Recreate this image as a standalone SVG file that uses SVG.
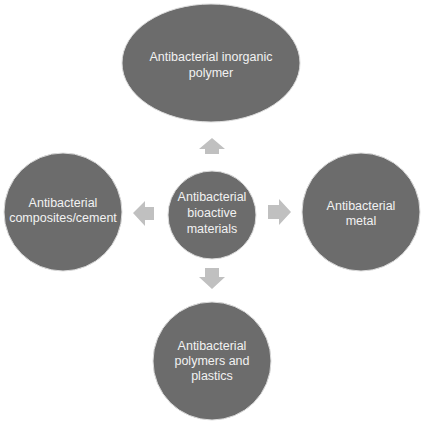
<svg xmlns="http://www.w3.org/2000/svg" width="422" height="421" viewBox="0 0 422 421">
<style>
.node{fill:#6c6c6c;stroke:#dcdcdc;stroke-width:1}
.t{font-family:"Liberation Sans",Arial,sans-serif;font-size:12.5px;fill:#f2f2f2;text-anchor:middle}
.arr{fill:#c0c0c0}
</style>
<rect width="422" height="421" fill="#ffffff"/>
<g id="connectors">
<polygon class="arr" points="212,138 225,149 219,149 219,154 205,154 205,149 199,149"/>
<polygon class="arr" points="212,289 225,277 219,277 219,268 205,268 205,277 199,277"/>
<polygon class="arr" points="133,213 145,201 145,207 154,207 154,220 145,220 145,226"/>
<polygon class="arr" points="291,212 279,199 279,205 268,205 268,219 279,219 279,225"/>
</g>
<g id="top">
<ellipse class="node" cx="211" cy="63" rx="89" ry="59"/>
<text class="t" x="211" y="61">Antibacterial inorganic</text>
<text class="t" x="211" y="77">polymer</text>
</g>
<g id="center">
<circle class="node" cx="212" cy="215" r="44"/>
<text class="t" x="212" y="201">Antibacterial</text>
<text class="t" x="212" y="217">bioactive</text>
<text class="t" x="212" y="233">materials</text>
</g>
<g id="left">
<circle class="node" cx="63" cy="212" r="59"/>
<text class="t" x="63" y="207">Antibacterial</text>
<text class="t" x="63" y="222">composites/cement</text>
</g>
<g id="right">
<circle class="node" cx="361" cy="212" r="59"/>
<text class="t" x="361" y="210">Antibacterial</text>
<text class="t" x="361" y="225">metal</text>
</g>
<g id="bottom">
<circle class="node" cx="212" cy="361" r="59"/>
<text class="t" x="212" y="350">Antibacterial</text>
<text class="t" x="212" y="365">polymers and</text>
<text class="t" x="212" y="380">plastics</text>
</g>
</svg>
